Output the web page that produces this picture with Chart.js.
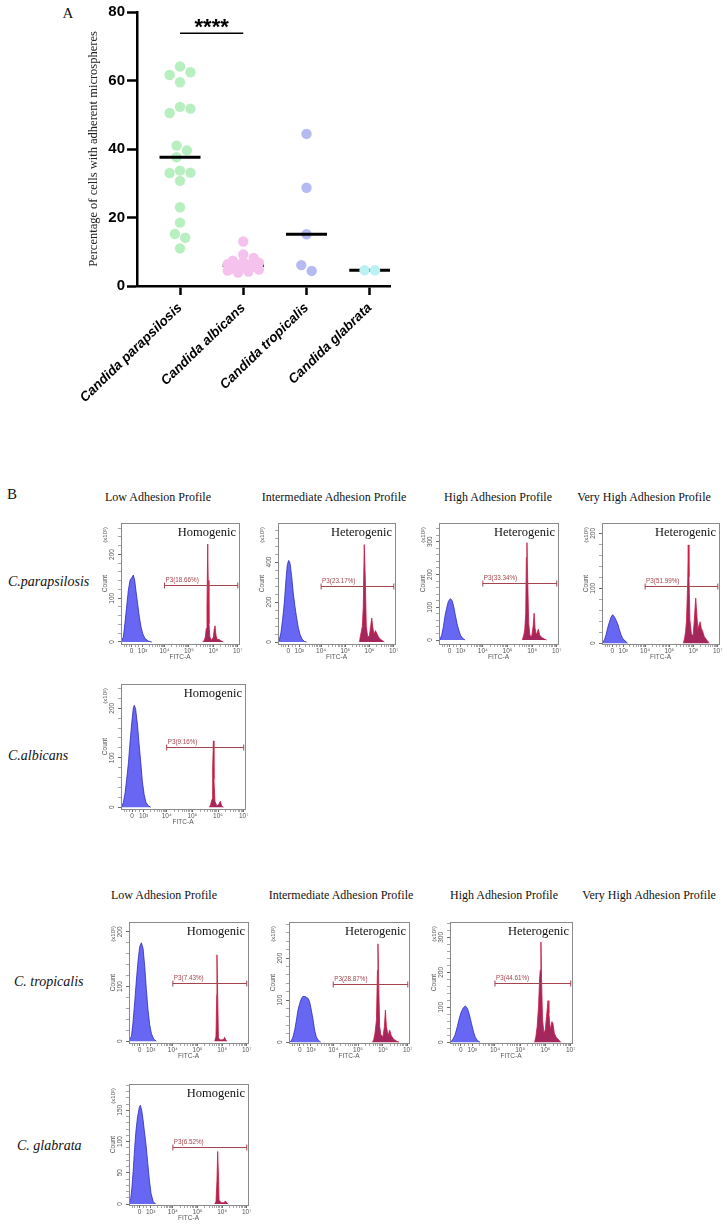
<!DOCTYPE html>
<html>
<head>
<meta charset="utf-8">
<script src="https://cdn.jsdelivr.net/npm/chart.js@4.4.0/dist/chart.umd.min.js"></script>
<style>
  body { margin: 0; width: 728px; height: 1227px; background: #fff; position: relative; overflow: hidden;
         font-family: "Liberation Serif", "Times New Roman", serif; color: #111; }
  .t { position: absolute; white-space: nowrap; transform: translate(-50%, -50%); font-size: 12px; }
  .row { position: absolute; white-space: nowrap; transform: translateY(-50%); font-size: 14px; font-style: italic; }
  canvas { position: absolute; }
</style>
</head>
<body>

<div class="t" style="left:68px;top:13px;font-size:15px">A</div>
<div class="t" style="left:12px;top:494px;font-size:15px">B</div>

<div class="t" style="left:158px;top:497px">Low Adhesion Profile</div>
<div class="t" style="left:334px;top:497px">Intermediate Adhesion Profile</div>
<div class="t" style="left:498px;top:497px">High Adhesion Profile</div>
<div class="t" style="left:644px;top:497px">Very High Adhesion Profile</div>

<div class="t" style="left:164px;top:895px">Low Adhesion Profile</div>
<div class="t" style="left:341px;top:895px">Intermediate Adhesion Profile</div>
<div class="t" style="left:504px;top:895px">High Adhesion Profile</div>
<div class="t" style="left:649px;top:895px">Very High Adhesion Profile</div>

<div class="row" style="left:8px;top:582px">C.parapsilosis</div>
<div class="row" style="left:8px;top:756px">C.albicans</div>
<div class="row" style="left:14px;top:982px">C. tropicalis</div>
<div class="row" style="left:17px;top:1146px">C. glabrata</div>

<canvas id="chartA" width="340" height="440" style="left:60px;top:0px;width:340px;height:440px"></canvas>

<script>
// ---- panel A: % of cells with adherent microspheres ----
const categories = ['Candida parapsilosis', 'Candida albicans', 'Candida tropicalis', 'Candida glabrata'];
const parapsilosis = [64.1, 62.4, 61.6, 59.5, 52.3, 51.8, 50.5, 41.0, 39.6, 37.6, 33.7, 33.1, 33.0, 30.7, 23.0, 18.5, 15.2, 14.1, 11.0];
const albicans = [13.0, 9.2, 8.2, 7.4, 7.0, 6.8, 6.4, 6.1, 5.9, 5.7, 5.4, 5.1, 4.8, 4.5, 4.2, 3.9];
const tropicalis = [44.4, 28.7, 15.1, 6.1, 4.4];
const glabrata = [4.6, 4.6];
const yTicksA = [0, 20, 40, 60, 80];
const sigPair = [0, 1];
const sigLevel = 73.8;
const sigText = '****';

// ---- panel B: FITC-A histograms, [decade position, count x10] ----
const fitcMajor = [2.65, 3.1, 4, 5, 6, 7];
const fitcLabels = ['0', '10³', '10⁴', '10⁵', '10⁶', '10⁷'];

const parapLowNeg = [[2.22,3],[2.315,11],[2.38,42],[2.45,80],[2.52,118],[2.59,141],[2.66,147],[2.725,153],[2.78,141],[2.83,118],[2.90,88],[2.97,57],[3.04,34],[3.11,19],[3.20,8],[3.34,2],[3.48,0]];
const parapLowPos = [[5.56,0],[5.63,4],[5.67,11],[5.71,31],[5.74,80],[5.77,224],[5.79,141],[5.82,42],[5.86,11],[5.93,4],[6.0,11],[6.04,31],[6.07,37],[6.11,15],[6.16,5],[6.23,6],[6.3,3],[6.41,0]];
const parapIntNeg = [[2.22,0],[2.275,12],[2.34,45],[2.41,112],[2.48,195],[2.55,312],[2.605,387],[2.66,408],[2.715,395],[2.785,328],[2.85,245],[2.92,178],[2.99,120],[3.06,70],[3.13,37],[3.21,15],[3.31,3],[3.40,0]];
const parapIntPos = [[5.58,0],[5.62,28],[5.66,53],[5.70,78],[5.74,178],[5.78,487],[5.825,312],[5.865,78],[5.92,28],[5.99,28],[6.045,78],[6.09,120],[6.13,78],[6.18,37],[6.24,57],[6.29,45],[6.36,28],[6.43,15],[6.53,7],[6.61,0]];
const parapHighNeg = [[2.22,0],[2.26,3],[2.33,15],[2.40,41],[2.46,72],[2.53,97],[2.60,118],[2.68,126],[2.75,121],[2.815,103],[2.88,77],[2.95,51],[3.02,31],[3.09,15],[3.17,6],[3.28,0]];
const parapHighPos = [[5.60,0],[5.66,15],[5.70,31],[5.74,82],[5.765,251],[5.79,297],[5.82,185],[5.86,51],[5.91,15],[5.98,10],[6.04,41],[6.08,82],[6.12,36],[6.17,15],[6.25,33],[6.31,15],[6.39,8],[6.50,3],[6.59,0]];
const parapVeryHighNeg = [[2.22,1],[2.25,2],[2.32,6],[2.385,15],[2.45,27],[2.52,38],[2.59,47],[2.66,52],[2.73,48],[2.80,42],[2.87,35],[2.935,25],[3.00,16],[3.07,9],[3.17,4],[3.28,0]];
const parapVeryHighPos = [[5.58,0],[5.63,9],[5.67,21],[5.71,42],[5.76,115],[5.78,179],[5.81,121],[5.85,42],[5.91,17],[5.98,13],[6.03,42],[6.09,82],[6.13,55],[6.18,24],[6.24,36],[6.265,39],[6.32,27],[6.38,21],[6.44,12],[6.54,6],[6.65,0]];
const albicansLowNeg = [[2.22,0],[2.25,2],[2.31,9],[2.38,29],[2.44,56],[2.51,90],[2.57,130],[2.64,171],[2.70,201],[2.74,206],[2.79,198],[2.86,168],[2.92,130],[2.99,90],[3.05,53],[3.12,26],[3.19,10],[3.28,3],[3.38,0]];
const albicansLowPos = [[5.66,0],[5.71,5],[5.765,16],[5.79,80],[5.82,134],[5.84,56],[5.88,12],[5.95,3],[6.02,5],[6.09,12],[6.14,3],[6.21,0]];
const tropicalisLowNeg = [[2.22,1],[2.32,9],[2.38,33],[2.45,70],[2.52,112],[2.59,148],[2.655,173],[2.72,180],[2.79,170],[2.86,136],[2.925,94],[2.99,58],[3.06,30],[3.13,14],[3.22,4],[3.33,0]];
const tropicalisLowPos = [[5.70,0],[5.75,9],[5.78,85],[5.79,158],[5.82,82],[5.85,6],[5.93,2],[6.06,3],[6.10,7],[6.15,2],[6.20,0]];
const tropicalisIntNeg = [[2.22,0],[2.31,3],[2.38,12],[2.45,29],[2.52,53],[2.58,76],[2.65,92],[2.72,104],[2.78,109],[2.89,108],[2.99,104],[3.05,96],[3.12,76],[3.19,53],[3.25,29],[3.32,12],[3.42,3],[3.50,0]];
const tropicalisIntPos = [[5.575,0],[5.63,6],[5.68,21],[5.74,53],[5.78,171],[5.80,234],[5.83,139],[5.87,37],[5.92,17],[6.00,13],[6.06,37],[6.10,76],[6.14,37],[6.21,15],[6.27,29],[6.34,15],[6.43,7],[6.54,3],[6.65,0]];
const tropicalisHighNeg = [[2.22,0],[2.25,2],[2.325,7],[2.42,21],[2.51,45],[2.59,69],[2.67,88],[2.75,99],[2.83,104],[2.91,97],[2.99,78],[3.07,54],[3.15,30],[3.225,14],[3.305,5],[3.41,0]];
const tropicalisHighPos = [[5.57,0],[5.62,16],[5.67,45],[5.725,102],[5.765,178],[5.79,206],[5.82,287],[5.845,178],[5.885,64],[5.94,26],[5.99,35],[6.04,73],[6.10,119],[6.135,83],[6.19,35],[6.255,59],[6.295,54],[6.35,26],[6.43,14],[6.52,7],[6.61,0]];
const glabrataLowNeg = [[2.22,1],[2.29,9],[2.34,27],[2.40,58],[2.45,90],[2.505,118],[2.57,140],[2.64,155],[2.68,158],[2.735,150],[2.79,135],[2.84,118],[2.91,95],[2.98,66],[3.05,37],[3.115,17],[3.20,4],[3.30,0]];
const glabrataLowPos = [[5.70,0],[5.75,4],[5.79,37],[5.82,84],[5.85,48],[5.875,6],[5.97,2],[6.08,2],[6.13,5],[6.185,2],[6.25,0]];

const gateCounts = [131, 282, 174, 104, 122, 107, 139, 170, 91];
const gatePercents = ['18.66', '23.17', '33.34', '51.99', '9.16', '7.43', '28.87', '44.61', '6.52'];
const profileTypes = ['Homogenic', 'Heterogenic', 'Heterogenic', 'Heterogenic', 'Homogenic', 'Homogenic', 'Heterogenic', 'Heterogenic', 'Homogenic'];

const sans = '"Liberation Sans", Arial, sans-serif';
const serif = '"Liberation Serif", "Times New Roman", serif';
Chart.defaults.font.family = sans;

const dotColors = ['#b8efc0', '#f5c2ee', '#b5bbf2', '#bcf1f4'];

function median(arr) {
  const s = arr.slice().sort((a, b) => a - b);
  const m = Math.floor(s.length / 2);
  return s.length % 2 ? s[m] : (s[m - 1] + s[m]) / 2;
}

// greedy beeswarm in pixel space (limited width, overlaps allowed when crowded),
// returns x in category units
function swarm(values, cat, pxCat, pxUnit, diam) {
  const placed = [];
  const step = diam / 2;
  const slots = [0, 1, -1, 2, -2, 3, -3].map(k => k * step);
  values.slice().sort((a, b) => b - a).forEach(v => {
    const py = v * pxUnit;
    let best = 0, bestD = -1;
    for (const o of slots) {
      const d = placed.length ? Math.min(...placed.map(p => Math.hypot(p.o - o, p.py - py))) : Infinity;
      if (d >= diam * 0.98) { best = o; bestD = d; break; }
      if (d > bestD) { bestD = d; best = o; }
    }
    placed.push({ o: best, py, v });
  });
  // centre each group of touching points around the category
  const seen = new Set();
  placed.forEach((p, i) => {
    if (seen.has(i)) return;
    const grp = [i]; seen.add(i);
    for (let j = 0; j < grp.length; j++) {
      placed.forEach((q, k) => {
        if (!seen.has(k) && Math.abs(q.py - placed[grp[j]].py) < diam) { seen.add(k); grp.push(k); }
      });
    }
    const mean = grp.reduce((s, k) => s + placed[k].o, 0) / grp.length;
    if (grp.length > 1) grp.forEach(k => { placed[k].o -= mean; });
  });
  return placed.map(p => ({ x: cat + p.o / pxCat, y: p.v }));
}

const groups = [parapsilosis, albicans, tropicalis, glabrata];
const medians = groups.map(median);

const sigPlugin = {
  id: 'sig',
  afterDatasetsDraw(chart) {
    const { ctx, scales: { x, y } } = chart;
    const yy = y.getPixelForValue(sigLevel);
    const x0 = x.getPixelForValue(sigPair[0]), x1 = x.getPixelForValue(sigPair[1]);
    ctx.save();
    ctx.strokeStyle = '#000';
    ctx.lineWidth = 1.3;
    ctx.beginPath(); ctx.moveTo(x0, yy); ctx.lineTo(x1, yy); ctx.stroke();
    ctx.fillStyle = '#000';
    ctx.font = 'bold 22px ' + sans;
    ctx.textAlign = 'center';
    ctx.textBaseline = 'alphabetic';
    ctx.fillText(sigText, (x0 + x1) / 2, yy + 1);
    ctx.restore();
  }
};

const chartA = new Chart(document.getElementById('chartA'), {
  type: 'scatter',
  data: {
    datasets: [
      { data: [0, 2].map(i => ({ x: i, y: medians[i] })), pointStyle: 'line', pointRadius: 20.5, borderColor: '#000', borderWidth: 3, order: 0 },
      { data: [1, 3].map(i => ({ x: i, y: medians[i] })), pointStyle: 'line', pointRadius: 20.5, borderColor: '#000', borderWidth: 3, order: 10 }
    ].concat(groups.map((g, i) => ({
      data: [], pointRadius: 5.2, backgroundColor: dotColors[i], borderColor: dotColors[i], borderWidth: 0, order: 5
    })))
  },
  options: {
    responsive: false, animation: false, devicePixelRatio: 1,
    layout: { autoPadding: false, padding: { left: 0, top: 12, right: 10, bottom: 0 } },
    plugins: { legend: { display: false }, tooltip: { enabled: false } },
    scales: {
      x: {
        type: 'linear', min: -0.68, max: 3.32,
        afterBuildTicks: s => { s.ticks = categories.map((c, i) => ({ value: i })); },
        ticks: { autoSkip: false, minRotation: 44, maxRotation: 44, padding: 5, color: '#000',
                 font: { size: 13.5, weight: 'bold', style: 'italic' }, callback: v => categories[v] },
        grid: { drawOnChartArea: false, tickLength: 9, tickWidth: 2.5, tickColor: '#000' },
        border: { color: '#000', width: 2.5 },
        afterFit: s => { s.height = 154; s.paddingLeft = 0; s.paddingRight = 0; }
      },
      y: {
        min: 0, max: 80,
        afterBuildTicks: s => { s.ticks = yTicksA.map(v => ({ value: v })); },
        ticks: { color: '#000', padding: 2, font: { size: 15, weight: 'bold' } },
        grid: { drawOnChartArea: false, tickLength: 10, tickWidth: 2.5, tickColor: '#000' },
        border: { color: '#000', width: 2.5 },
        title: { display: true, text: 'Percentage of cells with adherent microspheres', color: '#222',
                 font: { family: serif, size: 12.5 }, padding: { top: 26, bottom: 0 } },
        afterFit: s => { s.width = 77; s.paddingTop = 0; s.paddingBottom = 0; }
      }
    }
  },
  plugins: [sigPlugin]
});

{
  const sx = chartA.scales.x, sy = chartA.scales.y;
  const pxCat = Math.abs(sx.getPixelForValue(1) - sx.getPixelForValue(0));
  const pxUnit = Math.abs(sy.getPixelForValue(1) - sy.getPixelForValue(0));
  groups.forEach((g, i) => { chartA.data.datasets[i + 2].data = swarm(g, i, pxCat, pxUnit, 10.4); });
  chartA.update('none');
}

// ---- panel B ----
const flowPlugin = {
  id: 'flow',
  afterDatasetsDraw(chart, args, o) {
    const { ctx, chartArea: a, scales: { x, y } } = chart;
    ctx.save();
    ctx.strokeStyle = '#8a8a8a';
    ctx.lineWidth = 1;
    ctx.strokeRect(Math.round(a.left) + 0.5, Math.round(a.top) + 0.5, Math.round(a.right - a.left), Math.round(a.bottom - a.top));

    const gy = Math.round(y.getPixelForValue(o.gate)) + 0.5;
    const g0 = x.getPixelForValue(4), g1 = x.getPixelForValue(7);
    ctx.strokeStyle = '#a4444c';
    ctx.beginPath();
    ctx.moveTo(g0, gy); ctx.lineTo(g1, gy);
    ctx.moveTo(g0, gy - 3); ctx.lineTo(g0, gy + 3);
    ctx.moveTo(g1, gy - 3); ctx.lineTo(g1, gy + 3);
    ctx.stroke();
    ctx.fillStyle = '#a4444c';
    ctx.font = '6.3px ' + sans;
    ctx.textAlign = 'left';
    ctx.textBaseline = 'alphabetic';
    ctx.fillText('P3(' + o.pct + '%)', g0 + 1, gy - 4);

    ctx.fillStyle = '#111';
    ctx.font = '12.5px ' + serif;
    ctx.textAlign = 'right';
    ctx.fillText(o.kind, a.right - 3, a.top + 13);

    ctx.fillStyle = '#555';
    ctx.font = '6px ' + sans;
    ctx.translate(a.left - 16, a.top + 4);
    ctx.rotate(-Math.PI / 2);
    ctx.textAlign = 'right';
    ctx.textBaseline = 'middle';
    ctx.fillText('(x10¹)', 0, 0);
    ctx.restore();
  }
};

const fitcMinor = [];
[2.35, 2.45, 2.55, 2.8, 2.95].forEach(v => fitcMinor.push(v));
for (let k = 2; k < 10; k++) fitcMinor.push(3.1 + 0.9 * Math.log10(k));
for (let d = 4; d < 7; d++) for (let k = 2; k < 10; k++) fitcMinor.push(d + Math.log10(k));
const fitcAll = fitcMajor.concat(fitcMinor).sort((a, b) => a - b);

const panels = [
  { box: [121, 523, 118, 121], y: [-4.6, 272], step: 100, neg: parapLowNeg, pos: parapLowPos },
  { box: [278, 523, 117, 121], y: [-10, 595], step: 200, neg: parapIntNeg, pos: parapIntPos },
  { box: [439, 523, 119, 121], y: [-12, 357], step: 100, neg: parapHighNeg, pos: parapHighPos },
  { box: [602, 523, 117, 121], y: [-1.5, 219], step: 100, neg: parapVeryHighNeg, pos: parapVeryHighPos },
  { box: [121, 684, 124, 125], y: [-3.6, 249], step: 100, neg: albicansLowNeg, pos: albicansLowPos },
  { box: [129, 922, 119, 121], y: [-3.3, 218], step: 100, neg: tropicalisLowNeg, pos: tropicalisLowPos },
  { box: [289, 922, 120, 121], y: [-2, 286], step: 100, neg: tropicalisIntNeg, pos: tropicalisIntPos },
  { box: [450, 922, 122, 121], y: [-2, 344], step: 100, neg: tropicalisHighNeg, pos: tropicalisHighPos },
  { box: [129, 1084, 119, 121], y: [-1.6, 192], step: 50, neg: glabrataLowNeg, pos: glabrataLowPos }
];

panels.forEach((p, i) => {
  const [L, T, W, H] = p.box;
  const cw = W + 32, ch = H + 23;
  const c = document.createElement('canvas');
  c.width = cw; c.height = ch;
  c.style.cssText = `left:${L - 26}px;top:${T - 4}px;width:${cw}px;height:${ch}px`;
  document.body.appendChild(c);
  const isMajorY = v => v % p.step === 0;
  new Chart(c, {
    type: 'line',
    data: {
      datasets: [
        { data: p.neg, fill: 'origin', backgroundColor: '#6767f4', borderColor: '#2b2bb8', borderWidth: 0.8, pointRadius: 0, tension: 0 },
        { data: p.pos, fill: 'origin', backgroundColor: '#a3275c', borderColor: '#cc1840', borderWidth: 0.8, pointRadius: 0, tension: 0 }
      ]
    },
    options: {
      responsive: false, animation: false, devicePixelRatio: 1,
      layout: { autoPadding: false, padding: { left: 2, top: 4, right: 6, bottom: 2 } },
      plugins: {
        legend: { display: false }, tooltip: { enabled: false },
        flow: { gate: gateCounts[i], pct: gatePercents[i], kind: profileTypes[i] }
      },
      scales: {
        x: {
          type: 'linear', min: 2.22, max: 7.05,
          afterBuildTicks: s => { s.ticks = fitcAll.map(v => ({ value: v })); },
          ticks: { autoSkip: false, minRotation: 0, maxRotation: 0, padding: 0, color: '#555', font: { size: 6.5 },
                   callback: v => { const k = fitcMajor.indexOf(v); return k >= 0 ? fitcLabels[k] : ''; } },
          grid: { drawOnChartArea: false, tickLength: 3, tickColor: '#6a6a6a',
                  tickWidth: ctx => (ctx.tick && fitcMajor.includes(ctx.tick.value)) ? 1 : 0.6 },
          border: { color: '#666', width: 1 },
          title: { display: true, text: 'FITC-A', color: '#555', font: { size: 6.5 }, padding: { top: 0, bottom: 0 } },
          afterFit: s => { s.height = 17; s.paddingLeft = 0; s.paddingRight = 0; }
        },
        y: {
          min: p.y[0], max: p.y[1],
          afterBuildTicks: s => { const t = []; for (let v = 0; v <= p.y[1]; v += p.step / 5) t.push({ value: v }); s.ticks = t; },
          ticks: { autoSkip: false, minRotation: 90, maxRotation: 90, crossAlign: 'center', padding: 0, color: '#555',
                   font: { size: 6.5 }, callback: v => isMajorY(v) ? String(v) : '' },
          grid: { drawOnChartArea: false, tickLength: 3, tickColor: '#6a6a6a',
                  tickWidth: ctx => (ctx.tick && isMajorY(ctx.tick.value)) ? 1 : 0.6 },
          border: { color: '#666', width: 1 },
          title: { display: true, text: 'Count', color: '#555', font: { size: 6.5 }, padding: { top: 4, bottom: 0 } },
          afterFit: s => { s.width = 24; s.paddingTop = 0; s.paddingBottom = 0; }
        }
      }
    },
    plugins: [flowPlugin]
  });
});
</script>
</body>
</html>
